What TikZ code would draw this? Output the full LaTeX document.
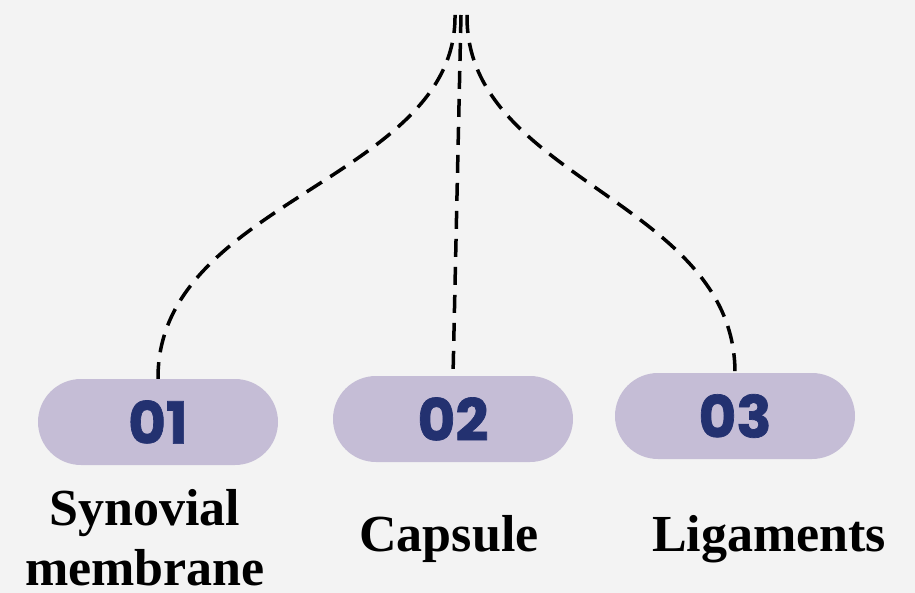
\documentclass[tikz,border=0pt]{standalone}
\usepackage{fontspec}
\setmainfont{Liberation Serif}
\newfontfamily\numfont{Poppins}[BoldFeatures={FakeBold=1.2}]
\usetikzlibrary{positioning}
\definecolor{bgcolor}{HTML}{F3F3F3}
\definecolor{pillcolor}{HTML}{C5BDD6}
\definecolor{numcolor}{HTML}{233170}
\tikzstyle{pill}=[fill=pillcolor, minimum width=240pt, minimum height=86pt, rounded corners=43pt, inner sep=0pt, text=numcolor, font=\numfont\bfseries\fontsize{58}{64}\selectfont]
\tikzstyle{part label}=[align=center, font=\bfseries\fontsize{52}{60}\selectfont]
\tikzstyle{link}=[line width=3.5pt, dash pattern=on 18pt off 10pt]

\begin{document}
\begin{tikzpicture}[x=1pt, y=-1pt]
      \fill[bgcolor] (0, 0) rectangle (915, 593);
      \useasboundingbox (0, 0) rectangle (915, 593);

      \coordinate (top_l) at (455, 15);
      \coordinate (top_m) at (461, 15);
      \coordinate (top_r) at (467, 15);

      \node[pill] (pill_1) at (158, 422) {01};
      \node[pill] (pill_2) at (453, 419) {02};
      \node[pill] (pill_3) at (735, 416) {03};

      \node[part label] (label_1) at (145, 538) {Synovial\\membrane};
      \node[part label] (label_2) at (449, 539) {Capsule};
      \node[part label] (label_3) at (769, 539) {Ligaments};

      \draw[link] (top_l) .. controls (457, 180) and (157, 200) .. (pill_1.north);
      \draw[link] (top_m) -- (pill_2.north);
      \draw[link] (top_r) .. controls (465, 180) and (735, 200) .. (pill_3.north);
    \end{tikzpicture}
\end{document}
